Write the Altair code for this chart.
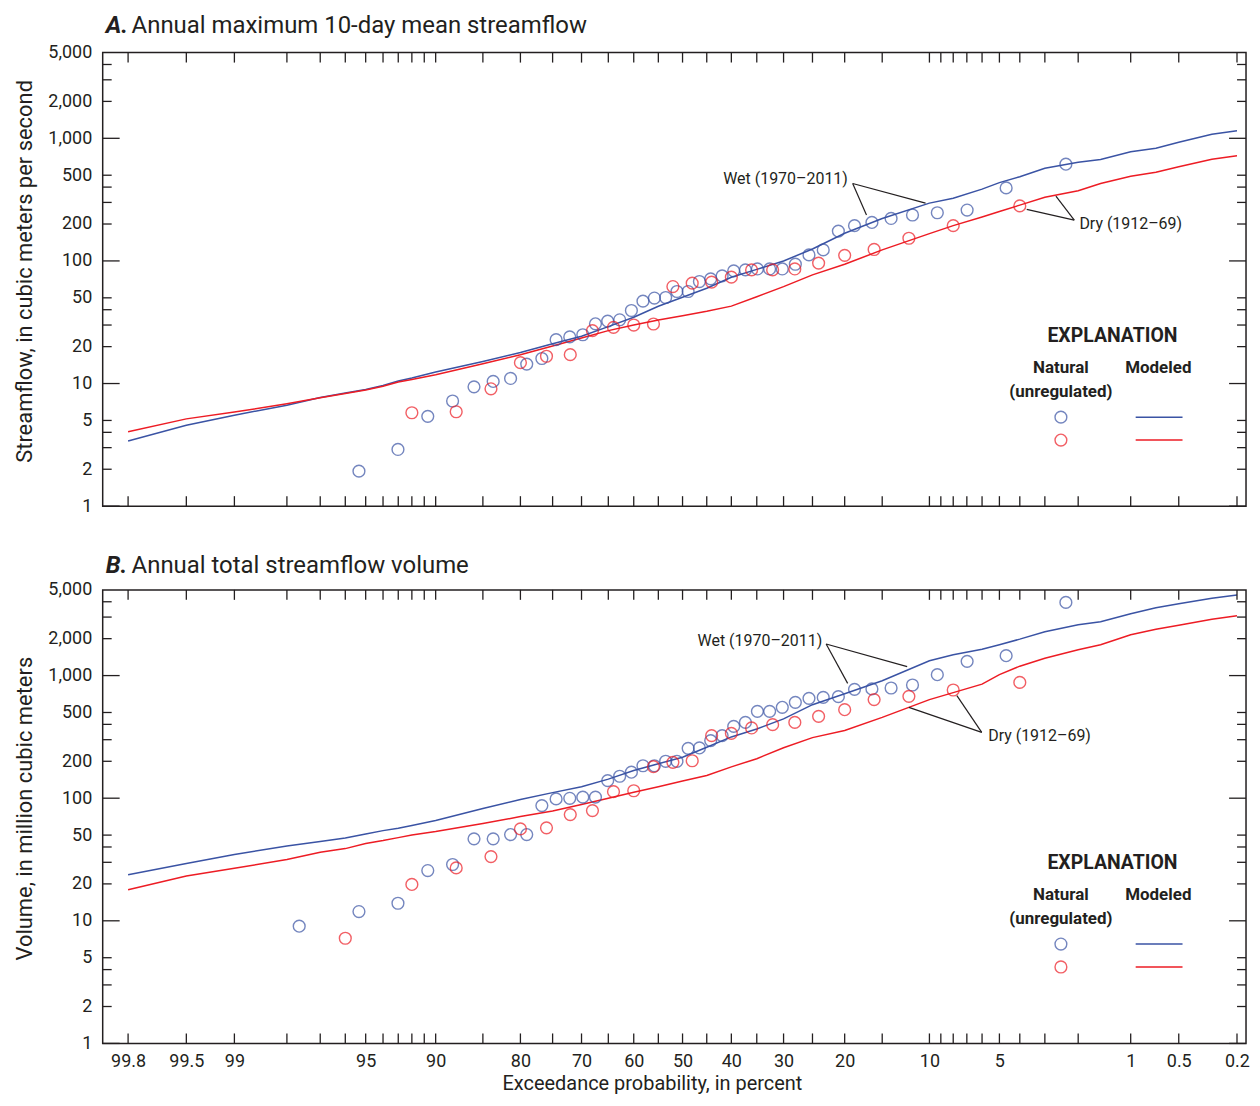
import math
from statistics import NormalDist
import pandas as pd
import altair as alt

BLUE = "#3a53a4"
RED = "#ed1c24"
INK = "#231f20"
FONT = "Roboto"

# ---------------- data ----------------
# x-axis: exceedance probability, percent
TICK_P = [99.8, 99.5, 99, 98, 97, 96, 95, 94, 93, 92, 91, 90, 85, 80, 75, 70, 65, 60, 55,
          50, 45, 40, 35, 30, 25, 20, 15, 10, 9, 8, 7, 6, 5, 4, 3, 2, 1, 0.5, 0.2]
LABEL_P = [99.8, 99.5, 99, 95, 90, 80, 70, 60, 50, 40, 30, 20, 10, 5, 1, 0.5, 0.2]
LABEL_TXT = ["99.8", "99.5", "99", "95", "90", "80", "70", "60", "50", "40", "30", "20",
             "10", "5", "1", "0.5", "0.2"]
Y_LABELS = [1, 2, 5, 10, 20, 50, 100, 200, 500, 1000, 2000, 5000]
Y_MAJOR = [1, 10, 100, 1000]
Y_MINOR = [2, 3, 4, 5, 20, 30, 40, 50, 200, 300, 400, 500, 2000, 3000, 4000]

# modeled curves
LINE_P = [99.8, 99.5, 99, 98, 97, 96, 95, 94, 93, 92, 90, 85, 80, 75, 70, 65, 60, 55, 50,
          45, 40, 35, 30, 25, 20, 15, 10, 8, 6, 5, 4, 3, 2, 1.5, 1, 0.7, 0.5, 0.3, 0.2]
A_WET_MODEL = [3.4, 4.56, 5.52, 6.66, 7.7, 8.37, 8.93, 9.63, 10.5, 11.1, 12.4, 15.1, 17.9,
               21.1, 24.3, 29.1, 34.7, 42.7, 50.5, 59.8, 73.5, 85.3, 100, 125, 168, 222,
               296, 325, 385, 435, 486, 570, 638, 671, 777, 829, 927, 1078, 1151]
A_DRY_MODEL = [4.05, 5.15, 5.85, 6.84, 7.65, 8.3, 8.85, 9.5, 10.3, 10.8, 11.8, 14.5, 17.2,
               20.2, 23.5, 27, 30, 33, 35.7, 38.8, 42.8, 51, 61.7, 76.9, 94, 123, 167, 194,
               228, 253, 285, 331, 374, 428, 491, 529, 587, 675, 721]
B_WET_MODEL = [23.7, 29.3, 34.8, 40.7, 44.3, 47.3, 51, 54.4, 56.9, 59.8, 65.7, 82.3, 97.4,
               111, 124, 143, 168, 191, 216, 260, 316, 367, 443, 579, 712, 908, 1322, 1480,
               1641, 1786, 1982, 2279, 2600, 2748, 3192, 3573, 3855, 4274, 4540]
B_DRY_MODEL = [17.9, 23.2, 26.8, 31.6, 36.2, 38.8, 42.7, 45.1, 47.7, 50, 53.4, 62.1, 70.8,
               78.5, 88.7, 99.8, 112, 124, 138, 153, 180, 210, 258, 312, 356, 456, 637, 726,
               851, 1017, 1193, 1386, 1626, 1786, 2154, 2388, 2575, 2884, 3078]

# natural (unregulated) observations
WET_P = [2.33, 4.65, 6.98, 9.30, 11.63, 13.95, 16.28, 18.60, 20.93, 23.26, 25.58, 27.91,
         30.23, 32.56, 34.88, 37.21, 39.53, 41.86, 44.19, 46.51, 48.84, 51.16, 53.49, 55.81,
         58.14, 60.47, 62.79, 65.12, 67.44, 69.77, 72.09, 74.42, 76.74, 79.07, 81.40, 83.72,
         86.05, 88.37, 90.70, 93.02, 95.35, 97.67]
DRY_P = [4, 8, 12, 16, 20, 24, 28, 32, 36, 40, 44, 48, 52, 56, 60, 64, 68, 72, 76, 80, 84,
         88, 92, 96]
A_WET_NAT = [615, 394, 260, 247, 237, 222, 206, 194, 175, 123, 112, 94, 86, 86, 86, 84.5, 83,
             75.5, 71.4, 67.9, 56.3, 56.3, 50.3, 49.8, 47.0, 39.4, 33.1, 32.3, 30.7, 25.0,
             24.0, 22.8, 16.0, 14.4, 11.0, 10.4, 9.4, 7.2, 5.4, 2.9, 1.93, None]
A_DRY_NAT = [281, 194, 153, 124, 111, 96, 86, 84.5, 84.5, 73.7, 67.1, 65.9, 61.8, 30.6, 30.0,
             28.7, 27.0, 17.2, 16.7, 14.8, 9.06, 5.89, 5.78, None]
B_WET_NAT = [3953, 1453, 1306, 1017, 838, 792, 778, 772, 673, 664, 652, 605, 551, 511, 511,
             415, 385, 324, 295, 257, 255, 200, 200, 184, 184, 163, 151, 139, 102, 102, 99.8,
             98.7, 87, 50.5, 50.5, 46.6, 46.6, 28.8, 25.7, 13.9, 11.9, 9.04]
B_DRY_NAT = [880, 763, 677, 637, 527, 465, 415, 398, 374, 338, 324, 202, 196, 181, 115, 113,
             79.2, 73.5, 57.3, 56.2, 33.4, 27.0, 19.8, 7.21]

# annotation leaders: (p1, v1, p2, v2)
A_LEADERS = [(18.86, 428, 16.98, 237), (18.86, 428, 10.36, 296),
             (2.10, 215, 2.63, 338), (2.10, 215, 3.70, 263)]
B_LEADERS = [(22.80, 1811, 19.57, 864), (22.80, 1811, 12.18, 1182),
             (6.02, 344, 12.0, 551), (6.02, 344, 7.72, 686)]
# annotation labels: (text, p, v, align)
A_NOTES = [("Wet (1970\u20132011)", 19.54, 464, "right"), ("Dry (1912\u201369)", 1.97, 200, "left")]
B_NOTES = [("Wet (1970\u20132011)", 23.42, 1925, "right"), ("Dry (1912\u201369)", 5.63, 319, "left")]


def zq(p):
    return NormalDist().inv_cdf(1.0 - p / 100.0)


Z0, Z1 = -3.010, 2.925
W, H = 1147, 455

xs = alt.Scale(domain=[Z0, Z1], nice=False, zero=False)
ys = alt.Scale(type="log", domain=[1, 5000], nice=False)
cs = alt.Scale(domain=["wet", "dry"], range=[BLUE, RED])


def text_layer(s, x, y, size, bold=False, italic=False, align="center"):
    return alt.Chart(pd.DataFrame({"t": [s]})).mark_text(
        align=align, baseline="middle", font=FONT, fontSize=size,
        fontWeight="bold" if bold else "normal",
        fontStyle="italic" if italic else "normal", color=INK,
    ).encode(x=alt.value(x), y=alt.value(y), text="t:N")


def panel(letter, title, ytitle, wet_line, dry_line, wet_nat, dry_nat, leaders, notes,
          leg_y, title_y, xlabels):
    if xlabels:
        keys = [math.floor(zq(p) * 1000 + 0.5) for p in LABEL_P]
        expr = ("[" + ",".join("'%s'" % t for t in LABEL_TXT) + "][indexof(["
                + ",".join(str(k) for k in keys) + "], round(datum.value*1000))]")
        xax = alt.Axis(values=[zq(p) for p in LABEL_P], labelExpr=expr,
                       title="Exceedance probability, in percent", titleFont=FONT,
                       titleFontSize=20, titleFontWeight="normal", titleColor=INK,
                       titlePadding=3, titleX=551, labelFont=FONT, labelFontSize=18,
                       labelColor=INK, labelPadding=9, labelFlush=False, labelOverlap=False,
                       ticks=False, domain=False, grid=False)
    else:
        xax = None
    yax = alt.Axis(values=Y_LABELS, format=",", title=ytitle, titleFont=FONT,
                   titleFontSize=22, titleFontWeight="normal", titleColor=INK,
                   titlePadding=11, titleY=219, labelFont=FONT, labelFontSize=18,
                   labelColor=INK, labelPadding=11, ticks=False, domain=False, grid=False)

    X = lambda f: alt.X(f, scale=xs, axis=xax)
    Y = lambda f: alt.Y(f, scale=ys, axis=yax)

    lines = pd.DataFrame({
        "z": [zq(p) for p in LINE_P] * 2,
        "v": list(wet_line) + list(dry_line),
        "s": ["wet"] * len(wet_line) + ["dry"] * len(dry_line),
    })
    pts = pd.DataFrame({
        "z": [zq(p) for p in WET_P] + [zq(p) for p in DRY_P],
        "v": list(wet_nat) + list(dry_nat),
        "s": ["wet"] * len(wet_nat) + ["dry"] * len(dry_nat),
    }).dropna()
    lead = pd.DataFrame({
        "z1": [zq(a[0]) for a in leaders], "v1": [a[1] for a in leaders],
        "z2": [zq(a[2]) for a in leaders], "v2": [a[3] for a in leaders],
    })
    xt = pd.DataFrame({"z": [zq(p) for p in TICK_P]})
    ymaj = pd.DataFrame({"v": Y_MAJOR})
    ymin = pd.DataFrame({"v": Y_MINOR})

    layers = []
    layers.append(alt.Chart(lines).mark_line(strokeWidth=1.5).encode(
        x=X("z:Q"), y=Y("v:Q"), color=alt.Color("s:N", scale=cs, legend=None),
        detail="s:N"))
    layers.append(alt.Chart(pts).mark_point(shape="circle", filled=False, size=140,
                                            strokeWidth=1.4).encode(
        x=X("z:Q"), y=Y("v:Q"), color=alt.Color("s:N", scale=cs, legend=None)))
    layers.append(alt.Chart(lead).mark_rule(color=INK, strokeWidth=1.2).encode(
        x=X("z1:Q"), x2="z2:Q", y=Y("v1:Q"), y2="v2:Q"))
    for txt, p, v, al in notes:
        layers.append(alt.Chart(pd.DataFrame({"z": [zq(p)], "v": [v], "t": [txt]})).mark_text(
            align=al, baseline="middle", font=FONT, fontSize=16, color=INK).encode(
            x=X("z:Q"), y=Y("v:Q"), text="t:N"))

    # frame ticks (inward)
    tick = dict(color=INK, strokeWidth=1.3)
    layers.append(alt.Chart(xt).mark_rule(**tick).encode(
        x=X("z:Q"), y=alt.value(H), y2=alt.value(H - 10)))
    layers.append(alt.Chart(xt).mark_rule(**tick).encode(
        x=X("z:Q"), y=alt.value(0), y2=alt.value(10)))
    for df, ln in ((ymaj, 17), (ymin, 9)):
        layers.append(alt.Chart(df).mark_rule(**tick).encode(
            y=Y("v:Q"), x=alt.value(0), x2=alt.value(ln)))
        layers.append(alt.Chart(df).mark_rule(**tick).encode(
            y=Y("v:Q"), x=alt.value(W), x2=alt.value(W - ln)))

    # panel title
    layers.append(text_layer(letter, 3, title_y, 24, bold=True, italic=True, align="left"))
    layers.append(text_layer(title, 29, title_y, 24, align="left"))

    # explanation
    layers.append(text_layer("EXPLANATION", 1013, leg_y, 19.5, bold=True))
    layers.append(text_layer("Natural", 961.3, leg_y + 32, 17, bold=True))
    layers.append(text_layer("(unregulated)", 961.3, leg_y + 55.5, 17, bold=True))
    layers.append(text_layer("Modeled", 1059, leg_y + 32, 17, bold=True))
    one = pd.DataFrame({"a": [0]})
    for col, dy in ((BLUE, 81), (RED, 104)):
        layers.append(alt.Chart(one).mark_point(shape="circle", filled=False, size=140,
                                                strokeWidth=1.4, color=col).encode(
            x=alt.value(961.3), y=alt.value(leg_y + dy)))
        layers.append(alt.Chart(one).mark_rule(color=col, strokeWidth=1.5).encode(
            x=alt.value(1036.3), x2=alt.value(1083.3), y=alt.value(leg_y + dy)))

    return alt.layer(*layers).properties(width=W, height=H)


pa = panel("A.", "Annual maximum 10-day mean streamflow",
           "Streamflow, in cubic meters per second",
           A_WET_MODEL, A_DRY_MODEL, A_WET_NAT, A_DRY_NAT, A_LEADERS, A_NOTES,
           284.7, -27, False)
pb = panel("B.", "Annual total streamflow volume",
           "Volume, in million cubic meters",
           B_WET_MODEL, B_DRY_MODEL, B_WET_NAT, B_DRY_NAT, B_LEADERS, B_NOTES,
           274.3, -24, True)

chart = alt.vconcat(pa, pb, spacing=37).properties(
    padding={"left": 5, "top": 3, "right": 1, "bottom": 0}
).configure_view(stroke=INK, strokeWidth=1.5)

chart.save("out.html", embed_options={"renderer": "svg", "actions": False})
